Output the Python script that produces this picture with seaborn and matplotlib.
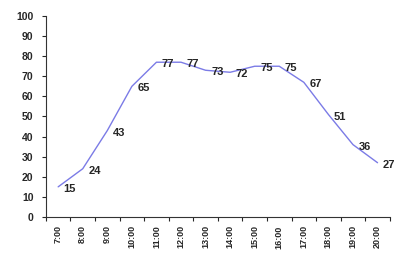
import matplotlib
matplotlib.use("Agg")
import matplotlib.pyplot as plt
import seaborn as sns
import pandas as pd
import numpy as np

# data
hours = ["7:00", "8:00", "9:00", "10:00", "11:00", "12:00", "13:00",
         "14:00", "15:00", "16:00", "17:00", "18:00", "19:00", "20:00"]
values = [15, 24, 43, 65, 77, 77, 73, 72, 75, 75, 67, 51, 36, 27]

df = pd.DataFrame({"pos": np.arange(len(hours)), "value": values})

sns.set_style("white")
plt.rcParams["font.family"] = ["Liberation Sans", "DejaVu Sans"]

fig = plt.figure(figsize=(3.99, 2.58), dpi=100)
ax = fig.add_axes([0.115, 0.159, 0.862, 0.779])

sns.lineplot(data=df, x="pos", y="value", ax=ax, color="#7b7be6", linewidth=1.0)

for x, v in zip(df["pos"], df["value"]):
    ax.annotate(str(v), (x, v), xytext=(4, -1.5), textcoords="offset points",
                ha="left", va="center", fontsize=8, fontweight="bold")

ax.set_xlim(-0.5, len(hours) - 0.5)
ax.set_ylim(0, 100)
ax.set_yticks(range(0, 101, 10))
ax.set_yticklabels([str(t) for t in range(0, 101, 10)], fontsize=7.5, fontweight="bold")
ax.set_xticks(df["pos"])
ax.set_xticklabels(hours, rotation=90, fontsize=6.5, fontweight="bold")
ax.set_xticks(np.arange(-0.5, len(hours), 1), minor=True)
ax.tick_params(axis="x", which="major", length=0, pad=6)
ax.tick_params(axis="x", which="minor", length=3, width=0.8, direction="out", bottom=True)
ax.tick_params(axis="y", length=3, width=0.8, direction="out", left=True, pad=6)
ax.set_xlabel("")
ax.set_ylabel("")

for s in ["top", "right"]:
    ax.spines[s].set_visible(False)
for s in ["left", "bottom"]:
    ax.spines[s].set_color("#333333")
    ax.spines[s].set_linewidth(0.8)

fig.savefig("out.png", dpi=100)
